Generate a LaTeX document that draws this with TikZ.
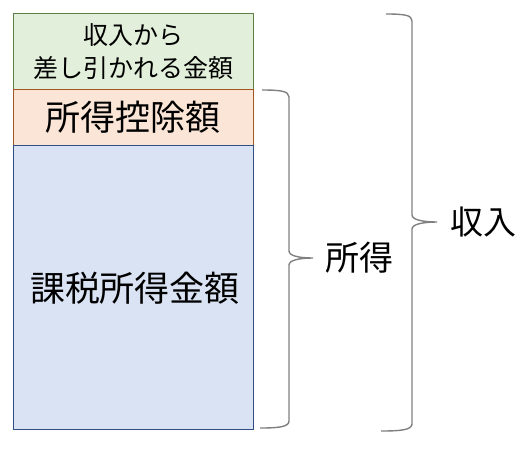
\documentclass[tikz,border=0pt]{standalone}
\usepackage{fontspec}
\setmainfont{Noto Sans CJK JP}
\definecolor{gfill}{HTML}{E2EFDA}
\definecolor{gline}{HTML}{5E7F45}
\definecolor{ofill}{HTML}{FBE5D6}
\definecolor{oline}{HTML}{A5551F}
\definecolor{bfill}{HTML}{DAE3F3}
\definecolor{bline}{HTML}{2F4F85}
\definecolor{brc}{HTML}{808080}
\tikzset{
  box/.style={draw, line width=1.2pt, rectangle, inner sep=0pt, minimum width=240pt, anchor=north west},
  brace/.style={draw=brc, line width=1.4pt},
  lbl/.style={inner sep=0pt, text=black}
}
\begin{document}
\begin{tikzpicture}[x=1pt,y=-1pt]
\useasboundingbox (0,0) rectangle (530,448);
\node[box, fill=gfill, draw=gline, minimum height=76pt] (g) at (13,13) {};
\node[box, fill=ofill, draw=oline, minimum height=56pt] (o) at (13,89) {};
\node[box, fill=bfill, draw=bline, minimum height=284pt] (b) at (13,145) {};
\node[lbl, align=center, font=\fontsize{25}{33}\selectfont] (gt) at (133,51.5) {収入から\\差し引かれる金額};
\node[lbl, font=\fontsize{35}{40}\selectfont] (ot) at (133,117) {所得控除額};
\node[lbl, font=\fontsize{35}{40}\selectfont] (bt) at (135,288) {課税所得金額};
\coordinate (b1) at (313,258);
\coordinate (b2) at (437,222);
\draw[brace] (262,90) .. controls (280,90) and (289,91) .. (289,97) -- (289,251)
  .. controls (289,256) and (300,258) .. (b1)
  .. controls (300,258) and (289,260) .. (289,265) -- (289,421)
  .. controls (289,427) and (278,428) .. (260,428);
\draw[brace] (386,14) .. controls (404,14) and (412,15) .. (412,21) -- (412,215)
  .. controls (412,220) and (424,222) .. (b2)
  .. controls (424,222) and (412,224) .. (412,229) -- (412,424)
  .. controls (412,430) and (400,431) .. (381,431);
\node[lbl, font=\fontsize{34}{40}\selectfont, anchor=west] (s) at ([xshift=12pt]b1) {所得};
\node[lbl, font=\fontsize{33}{40}\selectfont, anchor=west] (r) at ([xshift=13pt]b2) {収入};
\end{tikzpicture}
\end{document}
